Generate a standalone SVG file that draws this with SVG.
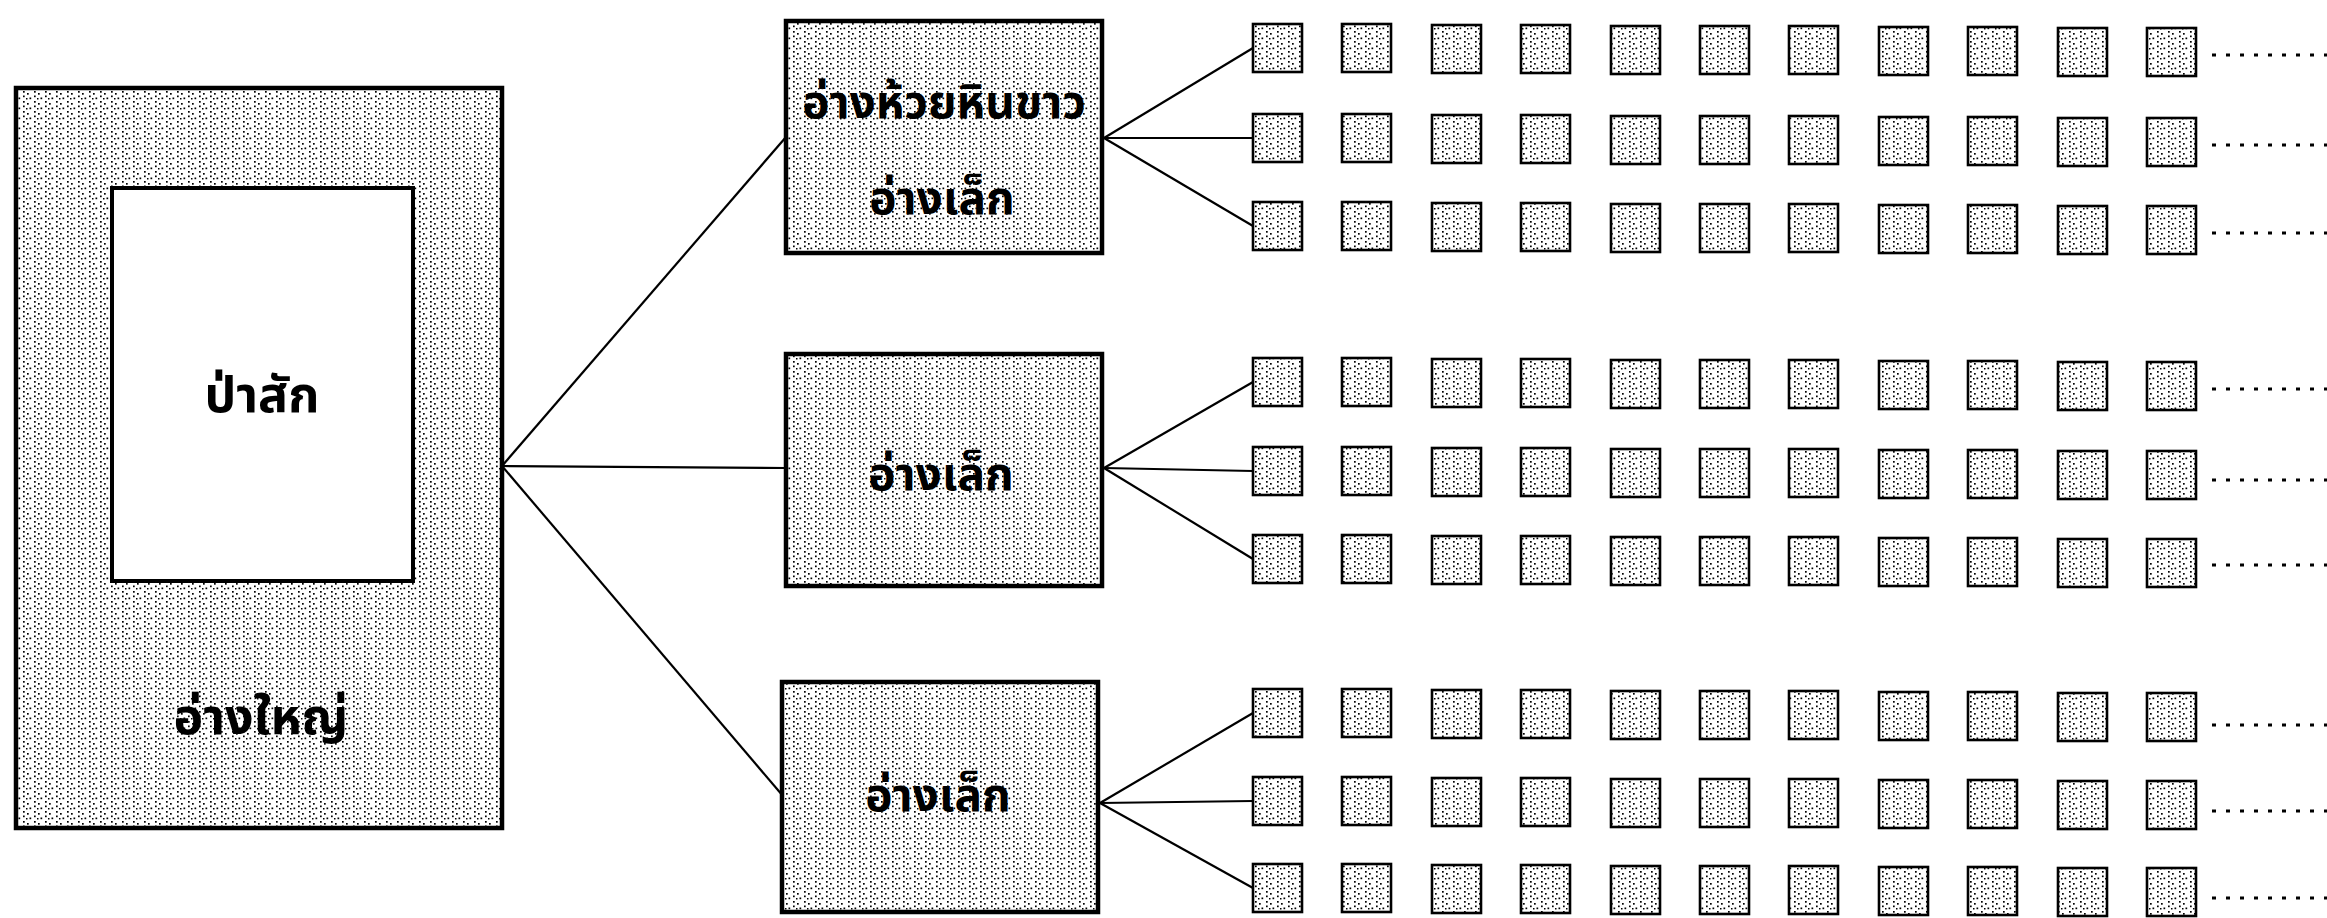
<svg xmlns="http://www.w3.org/2000/svg" width="2327" height="918" viewBox="0 0 2327 918">
<defs>
<pattern id="stip" width="11" height="10" patternUnits="userSpaceOnUse">
<rect width="11" height="10" fill="#fff"/>
<rect x="1" y="1" width="1.7" height="1.7" fill="#000"/>
<rect x="1" y="5.5" width="1.7" height="1.7" fill="#000"/>
<rect x="5" y="3" width="1.7" height="1.7" fill="#000"/>
<rect x="7.5" y="7.5" width="1.7" height="1.7" fill="#000"/>
<rect x="4" y="8" width="1.5" height="1.5" fill="#000"/>
</pattern>
</defs>
<style>
.tex{fill:url(#stip);stroke:#000;stroke-width:4.5}
.inner{fill:#fff;stroke:#000;stroke-width:4}
.sb{fill:url(#stip);stroke:#000;stroke-width:2.6}
.con{stroke:#000;stroke-width:2.2;fill:none}
.dots{stroke:#000;stroke-width:3;stroke-dasharray:4 10;fill:none}
.lbl{font-family:'Noto Sans Thai','Noto Sans','DejaVu Sans',sans-serif;font-weight:bold;fill:#000;text-anchor:middle}
</style>
<rect width="2327" height="918" fill="#fff"/>

<g id="connectors">
<line class="con" x1="502" y1="466" x2="786" y2="137"/>
<line class="con" x1="502" y1="466" x2="786" y2="468"/>
<line class="con" x1="502" y1="466" x2="783" y2="796"/>
<line class="con" x1="1104" y1="138" x2="1253" y2="48"/>
<line class="con" x1="1104" y1="138" x2="1253" y2="138"/>
<line class="con" x1="1104" y1="138" x2="1253" y2="226"/>
<line class="con" x1="1104" y1="468" x2="1253" y2="382"/>
<line class="con" x1="1104" y1="468" x2="1253" y2="471"/>
<line class="con" x1="1104" y1="468" x2="1253" y2="559"/>
<line class="con" x1="1100" y1="803" x2="1253" y2="713"/>
<line class="con" x1="1100" y1="803" x2="1253" y2="801"/>
<line class="con" x1="1100" y1="803" x2="1253" y2="888"/>
<line class="dots" x1="2212" y1="55" x2="2327" y2="55"/>
<line class="dots" x1="2212" y1="145" x2="2327" y2="145"/>
<line class="dots" x1="2212" y1="233" x2="2327" y2="233"/>
<line class="dots" x1="2212" y1="389" x2="2327" y2="389"/>
<line class="dots" x1="2212" y1="480" x2="2327" y2="480"/>
<line class="dots" x1="2212" y1="565" x2="2327" y2="565"/>
<line class="dots" x1="2212" y1="725" x2="2327" y2="725"/>
<line class="dots" x1="2212" y1="811" x2="2327" y2="811"/>
<line class="dots" x1="2212" y1="898" x2="2327" y2="898"/>
</g>

<g id="big-reservoir">
<rect class="tex" x="16" y="88" width="486" height="740"/>
<text class="lbl" x="261" y="734" font-size="50">อ่างใหญ่</text>
</g>
<g id="teak-forest">
<rect class="inner" x="112" y="188" width="301" height="393"/>
<text class="lbl" x="262" y="412" font-size="50">ป่าสัก</text>
</g>

<g id="small-reservoir-1">
<rect class="tex" x="786" y="21" width="316" height="232"/>
<text class="lbl" x="944" y="118" font-size="46">อ่างห้วยหินขาว</text>
<text class="lbl" x="942" y="214" font-size="46">อ่างเล็ก</text>
</g>
<g id="small-reservoir-2">
<rect class="tex" x="786" y="354" width="316" height="232"/>
<text class="lbl" x="941" y="490" font-size="46">อ่างเล็ก</text>
</g>
<g id="small-reservoir-3">
<rect class="tex" x="782" y="682" width="316" height="230"/>
<text class="lbl" x="938" y="811" font-size="46">อ่างเล็ก</text>
</g>

<g id="row-a1">
<rect class="sb" x="1253" y="24" width="49" height="48"/><rect class="sb" x="1342" y="24" width="49" height="48"/><rect class="sb" x="1432" y="25" width="49" height="48"/><rect class="sb" x="1521" y="25" width="49" height="48"/><rect class="sb" x="1611" y="26" width="49" height="48"/><rect class="sb" x="1700" y="26" width="49" height="48"/><rect class="sb" x="1789" y="26" width="49" height="48"/><rect class="sb" x="1879" y="27" width="49" height="48"/><rect class="sb" x="1968" y="27" width="49" height="48"/><rect class="sb" x="2058" y="28" width="49" height="48"/><rect class="sb" x="2147" y="28" width="49" height="48"/>
</g>
<g id="row-a2">
<rect class="sb" x="1253" y="114" width="49" height="48"/><rect class="sb" x="1342" y="114" width="49" height="48"/><rect class="sb" x="1432" y="115" width="49" height="48"/><rect class="sb" x="1521" y="115" width="49" height="48"/><rect class="sb" x="1611" y="116" width="49" height="48"/><rect class="sb" x="1700" y="116" width="49" height="48"/><rect class="sb" x="1789" y="116" width="49" height="48"/><rect class="sb" x="1879" y="117" width="49" height="48"/><rect class="sb" x="1968" y="117" width="49" height="48"/><rect class="sb" x="2058" y="118" width="49" height="48"/><rect class="sb" x="2147" y="118" width="49" height="48"/>
</g>
<g id="row-a3">
<rect class="sb" x="1253" y="202" width="49" height="48"/><rect class="sb" x="1342" y="202" width="49" height="48"/><rect class="sb" x="1432" y="203" width="49" height="48"/><rect class="sb" x="1521" y="203" width="49" height="48"/><rect class="sb" x="1611" y="204" width="49" height="48"/><rect class="sb" x="1700" y="204" width="49" height="48"/><rect class="sb" x="1789" y="204" width="49" height="48"/><rect class="sb" x="1879" y="205" width="49" height="48"/><rect class="sb" x="1968" y="205" width="49" height="48"/><rect class="sb" x="2058" y="206" width="49" height="48"/><rect class="sb" x="2147" y="206" width="49" height="48"/>
</g>
<g id="row-b1">
<rect class="sb" x="1253" y="358" width="49" height="48"/><rect class="sb" x="1342" y="358" width="49" height="48"/><rect class="sb" x="1432" y="359" width="49" height="48"/><rect class="sb" x="1521" y="359" width="49" height="48"/><rect class="sb" x="1611" y="360" width="49" height="48"/><rect class="sb" x="1700" y="360" width="49" height="48"/><rect class="sb" x="1789" y="360" width="49" height="48"/><rect class="sb" x="1879" y="361" width="49" height="48"/><rect class="sb" x="1968" y="361" width="49" height="48"/><rect class="sb" x="2058" y="362" width="49" height="48"/><rect class="sb" x="2147" y="362" width="49" height="48"/>
</g>
<g id="row-b2">
<rect class="sb" x="1253" y="447" width="49" height="48"/><rect class="sb" x="1342" y="447" width="49" height="48"/><rect class="sb" x="1432" y="448" width="49" height="48"/><rect class="sb" x="1521" y="448" width="49" height="48"/><rect class="sb" x="1611" y="449" width="49" height="48"/><rect class="sb" x="1700" y="449" width="49" height="48"/><rect class="sb" x="1789" y="449" width="49" height="48"/><rect class="sb" x="1879" y="450" width="49" height="48"/><rect class="sb" x="1968" y="450" width="49" height="48"/><rect class="sb" x="2058" y="451" width="49" height="48"/><rect class="sb" x="2147" y="451" width="49" height="48"/>
</g>
<g id="row-b3">
<rect class="sb" x="1253" y="535" width="49" height="48"/><rect class="sb" x="1342" y="535" width="49" height="48"/><rect class="sb" x="1432" y="536" width="49" height="48"/><rect class="sb" x="1521" y="536" width="49" height="48"/><rect class="sb" x="1611" y="537" width="49" height="48"/><rect class="sb" x="1700" y="537" width="49" height="48"/><rect class="sb" x="1789" y="537" width="49" height="48"/><rect class="sb" x="1879" y="538" width="49" height="48"/><rect class="sb" x="1968" y="538" width="49" height="48"/><rect class="sb" x="2058" y="539" width="49" height="48"/><rect class="sb" x="2147" y="539" width="49" height="48"/>
</g>
<g id="row-c1">
<rect class="sb" x="1253" y="689" width="49" height="48"/><rect class="sb" x="1342" y="689" width="49" height="48"/><rect class="sb" x="1432" y="690" width="49" height="48"/><rect class="sb" x="1521" y="690" width="49" height="48"/><rect class="sb" x="1611" y="691" width="49" height="48"/><rect class="sb" x="1700" y="691" width="49" height="48"/><rect class="sb" x="1789" y="691" width="49" height="48"/><rect class="sb" x="1879" y="692" width="49" height="48"/><rect class="sb" x="1968" y="692" width="49" height="48"/><rect class="sb" x="2058" y="693" width="49" height="48"/><rect class="sb" x="2147" y="693" width="49" height="48"/>
</g>
<g id="row-c2">
<rect class="sb" x="1253" y="777" width="49" height="48"/><rect class="sb" x="1342" y="777" width="49" height="48"/><rect class="sb" x="1432" y="778" width="49" height="48"/><rect class="sb" x="1521" y="778" width="49" height="48"/><rect class="sb" x="1611" y="779" width="49" height="48"/><rect class="sb" x="1700" y="779" width="49" height="48"/><rect class="sb" x="1789" y="779" width="49" height="48"/><rect class="sb" x="1879" y="780" width="49" height="48"/><rect class="sb" x="1968" y="780" width="49" height="48"/><rect class="sb" x="2058" y="781" width="49" height="48"/><rect class="sb" x="2147" y="781" width="49" height="48"/>
</g>
<g id="row-c3">
<rect class="sb" x="1253" y="864" width="49" height="48"/><rect class="sb" x="1342" y="864" width="49" height="48"/><rect class="sb" x="1432" y="865" width="49" height="48"/><rect class="sb" x="1521" y="865" width="49" height="48"/><rect class="sb" x="1611" y="866" width="49" height="48"/><rect class="sb" x="1700" y="866" width="49" height="48"/><rect class="sb" x="1789" y="866" width="49" height="48"/><rect class="sb" x="1879" y="867" width="49" height="48"/><rect class="sb" x="1968" y="867" width="49" height="48"/><rect class="sb" x="2058" y="868" width="49" height="48"/><rect class="sb" x="2147" y="868" width="49" height="48"/>
</g>
</svg>
